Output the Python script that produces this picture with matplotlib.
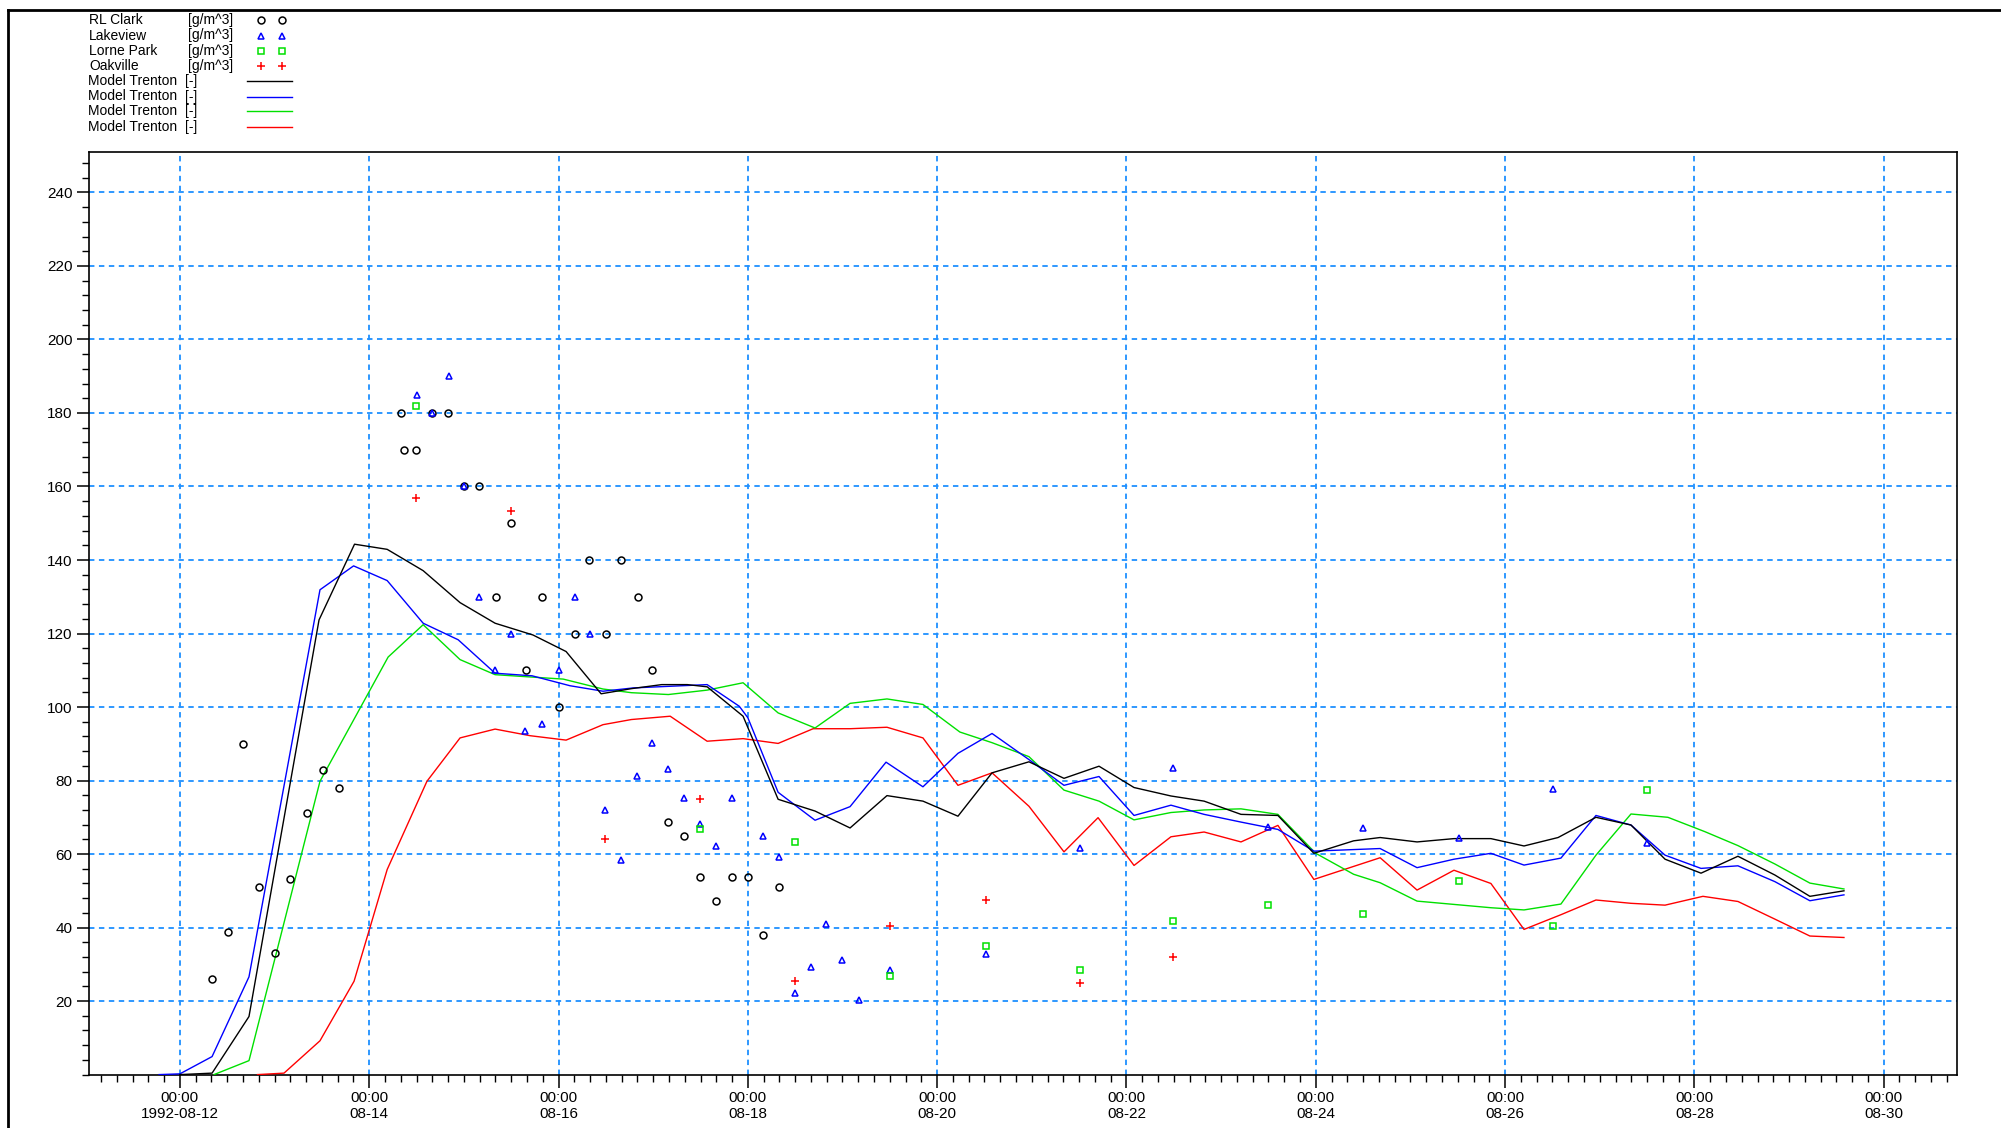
import numpy as np
import matplotlib
matplotlib.use("Agg")
import matplotlib.pyplot as plt
import matplotlib.dates as mdates
from matplotlib.lines import Line2D
from matplotlib.ticker import FixedLocator, FuncFormatter, MultipleLocator

plt.rcParams["font.family"] = ["Liberation Sans", "DejaVu Sans"]

# time axis: days after 1992-08-12 00:00
START = "1992-08-12"

# observations
clark_days = [0.34, 0.51, 0.67, 0.84, 1.01, 1.16, 1.34, 1.51, 1.68, 2.34, 2.37, 2.49, 2.66,
              2.83, 3.0, 3.16, 3.34, 3.5, 3.66, 3.83, 4.0, 4.17, 4.32, 4.5, 4.66, 4.84, 4.99,
              5.16, 5.33, 5.49, 5.66, 5.83, 6.0, 6.16, 6.33]
clark_vals = [25.9, 38.7, 90.0, 51.1, 33.1, 53.1, 71.2, 83.0, 77.9, 180, 170, 170, 180,
              180, 160, 160, 130, 150, 110, 130, 100, 120, 140, 120, 140, 130, 110,
              68.8, 64.8, 53.8, 47.2, 53.8, 53.8, 38.1, 51.0]

lakeview_days = [2.5, 2.66, 2.84, 3.0, 3.16, 3.33, 3.5, 3.65, 3.83, 4.0, 4.17, 4.33, 4.49,
                 4.66, 4.83, 4.99, 5.16, 5.33, 5.49, 5.66, 5.83, 6.16, 6.33, 6.5, 6.67,
                 6.83, 7.0, 7.17, 7.5, 8.52, 9.51, 10.49, 11.5, 12.5, 13.51, 14.51, 15.5]
lakeview_vals = [185, 180, 190, 160, 130, 110, 120, 93.5, 95.4, 110, 130, 120, 72.1,
                 58.4, 81.3, 90.2, 83.1, 75.2, 68.2, 62.3, 75.2, 65.0, 59.2, 22.2, 29.3,
                 40.9, 31.2, 20.2, 28.5, 32.8, 61.6, 83.3, 67.3, 67.2, 64.4, 77.7, 63.1]

lorne_days = [2.49, 5.49, 6.5, 7.5, 8.52, 9.51, 10.49, 11.5, 12.5, 13.51, 14.51, 15.5]
lorne_vals = [182, 66.9, 63.3, 26.7, 35.0, 28.4, 41.8, 46.2, 43.7, 52.8, 40.3, 77.3]

oak_days = [2.49, 3.5, 4.49, 5.49, 6.5, 7.5, 8.52, 9.51, 10.49]
oak_vals = [157, 153.3, 64.1, 75.1, 25.5, 40.5, 47.6, 24.9, 31.9]

# model results
black_days = [0.0, 0.34, 0.73, 1.47, 1.845, 2.19, 2.57, 2.96, 3.33, 3.73, 4.08, 4.45, 4.77,
              5.09, 5.36, 5.57, 5.95, 6.32, 6.71, 7.08, 7.47, 7.85, 8.22, 8.58, 8.97, 9.34,
              9.71, 10.08, 10.47, 10.82, 11.21, 11.6, 11.98, 12.4, 12.68, 13.07, 13.46,
              13.85, 14.2, 14.56, 14.96, 15.33, 15.69, 16.07, 16.46, 16.85, 17.22, 17.58]
black_vals = [0, 0.4, 15.8, 123.7, 144.3, 142.9, 137.1, 128.4, 122.8, 119.6, 115.1, 103.6,
              105.0, 106.1, 106.1, 105.5, 97.5, 74.9, 71.7, 67.1, 75.9, 74.4, 70.3, 82.1,
              85.1, 80.6, 83.9, 78.1, 75.8, 74.4, 70.8, 70.5, 60.2, 63.6, 64.5, 63.3, 64.2,
              64.2, 62.2, 64.5, 70.0, 67.9, 58.6, 54.8, 59.4, 54.3, 48.5, 50.0]

blue_days = [-0.22, 0.0, 0.34, 0.73, 1.48, 1.835, 2.19, 2.57, 2.94, 3.33, 3.72, 4.12, 4.47,
             4.79, 5.57, 5.91, 6.0, 6.32, 6.71, 7.08, 7.46, 7.85, 8.22, 8.58, 8.97, 9.34,
             9.71, 10.08, 10.47, 10.82, 11.21, 11.6, 11.98, 12.68, 13.07, 13.46, 13.85,
             14.2, 14.59, 14.96, 15.33, 15.69, 16.07, 16.46, 16.85, 17.22, 17.58]
blue_vals = [0, 0.2, 4.9, 26.6, 131.9, 138.4, 134.4, 122.8, 118.3, 109.2, 108.5, 105.8,
             104.3, 105.2, 106.1, 100.2, 97.1, 76.8, 69.2, 72.9, 85.0, 78.3, 87.4, 92.8,
             85.7, 78.7, 81.1, 70.5, 73.3, 70.8, 68.7, 66.7, 60.8, 61.5, 56.3, 58.6, 60.2,
             57.0, 58.9, 70.5, 67.9, 59.7, 56.1, 56.8, 52.5, 47.3, 48.9]

green_days = [0.36, 0.73, 1.48, 2.2, 2.57, 2.96, 3.33, 4.05, 4.47, 4.77, 5.16, 5.57, 5.95,
              6.32, 6.71, 7.08, 7.47, 7.85, 8.24, 8.58, 8.97, 9.34, 9.71, 10.08, 10.47,
              10.82, 11.21, 11.6, 12.0, 12.4, 12.68, 13.07, 13.46, 13.85, 14.2, 14.59,
              14.96, 15.33, 15.72, 16.11, 16.46, 16.85, 17.22, 17.58]
green_vals = [0, 3.8, 79.8, 113.6, 122.4, 112.9, 108.8, 107.6, 104.9, 103.9, 103.4, 104.6,
              106.6, 98.4, 94.3, 101.0, 102.2, 100.7, 93.2, 90.3, 86.5, 77.4, 74.4, 69.3,
              71.3, 72.0, 72.3, 70.8, 60.2, 54.5, 52.2, 47.2, 46.3, 45.4, 44.8, 46.4, 59.7,
              70.9, 70.0, 66.1, 62.3, 57.3, 52.1, 50.5]

red_days = [0.82, 1.1, 1.48, 1.84, 2.19, 2.61, 2.96, 3.33, 3.7, 4.08, 4.47, 4.77, 5.18,
            5.57, 5.95, 6.32, 6.69, 7.08, 7.47, 7.85, 8.22, 8.58, 8.97, 9.34, 9.7, 10.08,
            10.47, 10.82, 11.21, 11.6, 11.98, 12.68, 13.07, 13.46, 13.85, 14.2, 14.59,
            14.96, 15.33, 15.69, 16.09, 16.46, 16.85, 17.22, 17.58]
red_vals = [0, 0.4, 9.2, 25.4, 55.8, 79.8, 91.6, 94.0, 92.2, 91.0, 95.2, 96.6, 97.5, 90.7,
            91.4, 90.1, 94.1, 94.1, 94.5, 91.6, 78.7, 82.1, 73.0, 60.6, 69.9, 56.9, 64.7,
            66.0, 63.3, 67.8, 53.1, 59.0, 50.2, 55.6, 52.0, 39.5, 43.5, 47.5, 46.6, 46.1,
            48.5, 47.1, 42.3, 37.7, 37.3]

stations = ["RL Clark", "Lakeview", "Lorne Park", "Oakville"]
model_labels = ["Model Trenton", "Model Trenton", "Model Trenton", "Model Trenton"]

W, H = 2001, 1128
BASE = mdates.date2num(np.datetime64(START))
GRID = "#1e90ff"


def t(days):
    return BASE + np.asarray(days, dtype=float)


fig = plt.figure(figsize=(W / 100, H / 100), dpi=100, facecolor="white")
ax = fig.add_axes([89.3 / W, 1 - 1074.6 / H, (1956.6 - 89.3) / W, (1074.6 - 152) / H])

ax.plot(t(red_days), red_vals, color="#ff0000", lw=1.0, zorder=3)
ax.plot(t(green_days), green_vals, color="#00e000", lw=1.0, zorder=3)
ax.plot(t(blue_days), blue_vals, color="#0000ff", lw=1.0, zorder=3)
ax.plot(t(black_days), black_vals, color="#000000", lw=1.0, zorder=3)

mk = dict(ls="none", zorder=4)
styles = [
    dict(marker="o", ms=5, mfc="none", mec="black", mew=1.1),
    dict(marker="^", ms=5, mfc="none", mec="#0000ff", mew=1.1),
    dict(marker="s", ms=4.5, mfc="none", mec="#00e000", mew=1.1),
    dict(marker="+", ms=6, mec="#ff0000", mew=1.1),
]
ax.plot(t(clark_days), clark_vals, **styles[0], **mk)
ax.plot(t(lakeview_days), lakeview_vals, **styles[1], **mk)
ax.plot(t(lorne_days), lorne_vals, **styles[2], **mk)
ax.plot(t(oak_days), oak_vals, **styles[3], **mk)

ax.set_xlim(t(-0.957), t(18.77))
ax.set_ylim(0, 251)

major = t(np.arange(0, 19, 2))
ax.xaxis.set_major_locator(FixedLocator(major))
ax.xaxis.set_minor_locator(FixedLocator(t(np.arange(-5, 113) / 6.0)))


def xfmt(v, pos):
    d = mdates.num2date(v)
    if abs(v - major[0]) < 1e-6:
        return d.strftime("%H:%M\n%Y-%m-%d")
    return d.strftime("%H:%M\n%m-%d")


ax.xaxis.set_major_formatter(FuncFormatter(xfmt))
ax.yaxis.set_major_locator(FixedLocator(np.arange(20, 241, 20)))
ax.yaxis.set_minor_locator(MultipleLocator(4))

ax.tick_params(which="major", direction="out", length=9, width=1.1, labelsize=11, pad=3)
ax.tick_params(which="minor", direction="out", length=5, width=1.0)
for lab in ax.get_xticklabels():
    lab.set_linespacing(1.15)
for s in ax.spines.values():
    s.set_linewidth(1.2)

ax.grid(True, which="major", color=GRID, ls=(0, (3, 2.5)), lw=1.3, zorder=1)

# legend block at the top left (pixel positions of the reference)
def px(x, y):
    return x / W, 1 - y / H


rows = [20, 35.5, 51, 66]
for name, y, st in zip(stations, rows, styles):
    fig.text(*px(89, y), name, fontsize=10, va="center", ha="left")
    fig.text(*px(188, y), "[g/m^3]", fontsize=10, va="center", ha="left")
    fig.add_artist(Line2D([261 / W, 282 / W], [1 - y / H] * 2, ls="none", **st))

mrows = [81, 96.5, 111, 127]
for name, y, c in zip(model_labels, mrows, ["#000000", "#0000ff", "#00e000", "#ff0000"]):
    fig.text(*px(88, y), name, fontsize=10, va="center", ha="left")
    fig.text(*px(185, y), "[-]", fontsize=10, va="center", ha="left")
    fig.add_artist(Line2D([247 / W, 292 / W], [1 - y / H] * 2, color=c, lw=1.0))

# outer frame (top and left edge of the window)
fig.add_artist(Line2D([8 / W, 1.0], [1 - 10 / H] * 2, color="black", lw=2.0))
fig.add_artist(Line2D([8 / W, 8 / W], [0.0, 1 - 10 / H], color="black", lw=2.0))

fig.savefig("out.png", dpi=100, facecolor="white")
